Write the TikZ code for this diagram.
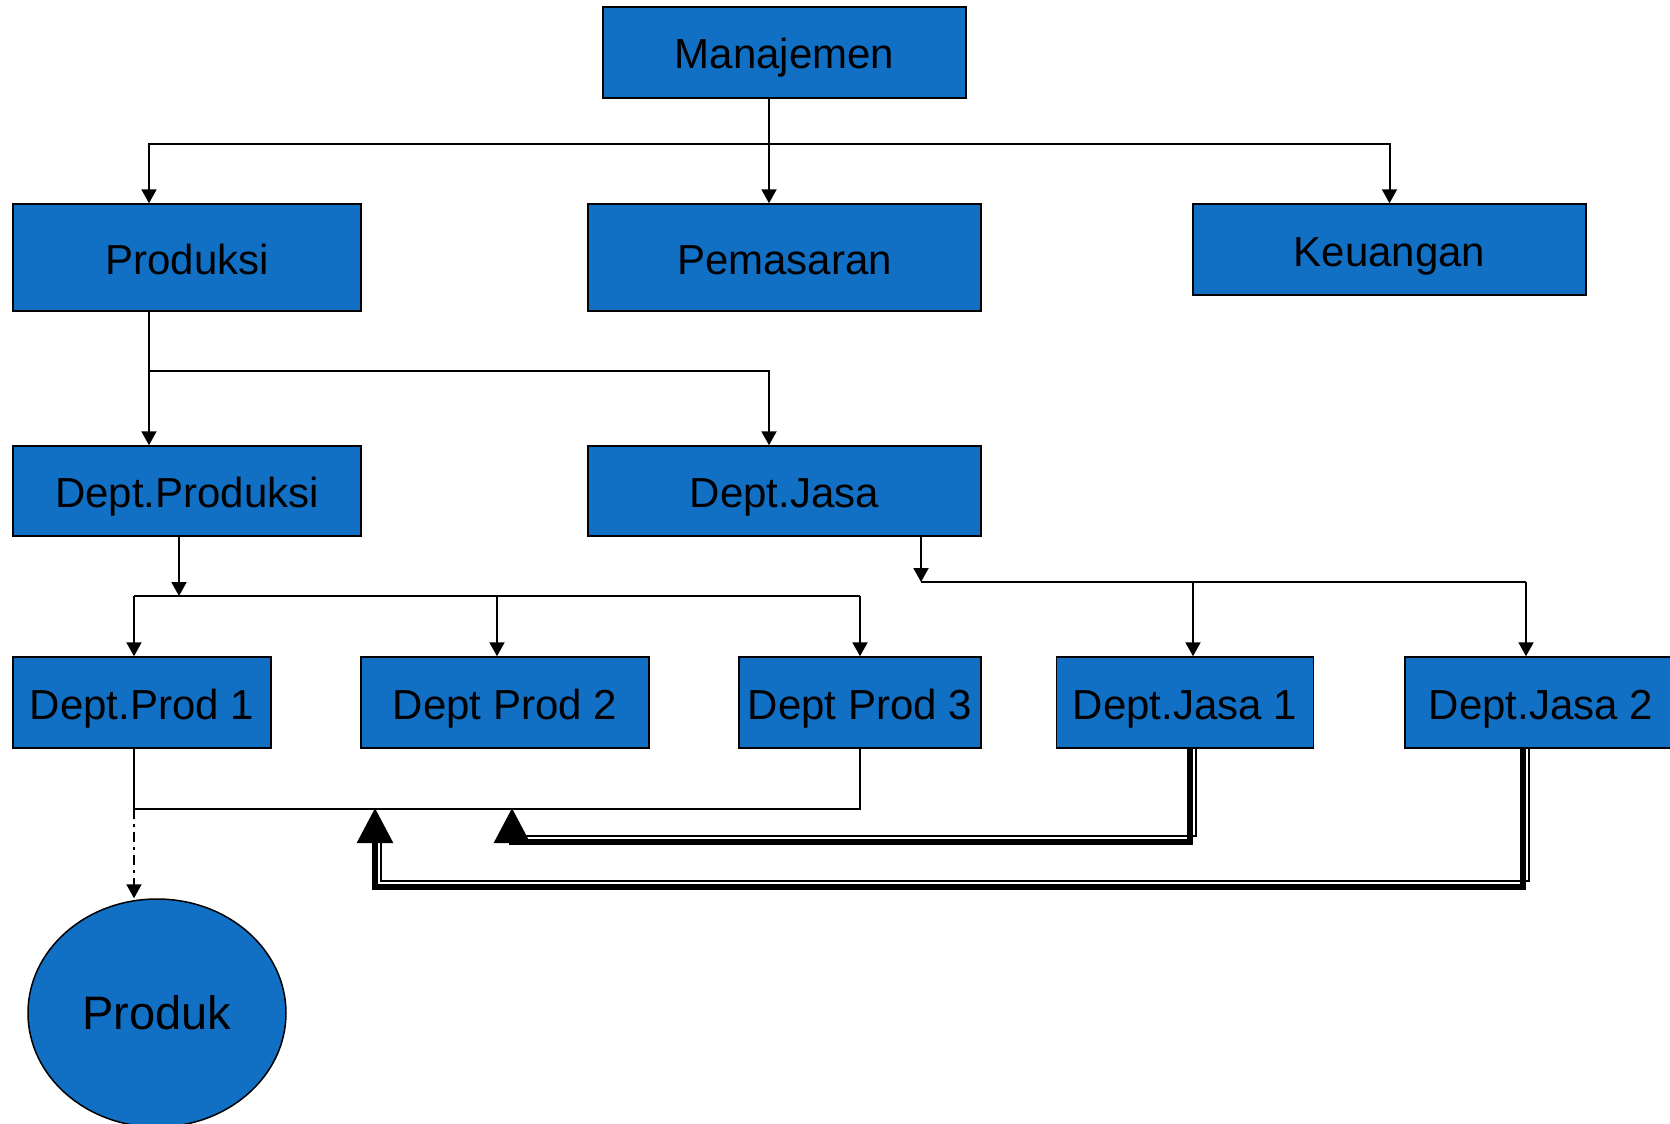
\documentclass[tikz,border=0pt]{standalone}
\usepackage{fontspec}
\setmainfont{Liberation Sans}
\usetikzlibrary{arrows.meta,shapes.geometric}
\definecolor{boxblue}{RGB}{17,111,196}
\tikzset{
    unit/.style={draw=black, line width=1.5pt, fill=boxblue, inner sep=0pt,
        minimum height=91pt, text height=33pt, text depth=0pt,
        font=\fontsize{42}{50}\selectfont},
    link/.style={line width=2pt, -{Triangle[length=14pt,width=15pt]}},
    wire/.style={line width=2pt},
    flow/.style={line width=6pt, -{Triangle[length=35pt,width=35pt]}},
    shade/.style={line width=2pt}
}
\begin{document}
\begin{tikzpicture}[x=1pt, y=-1pt]
    \fill[white] (0, 0) rectangle (1670, 1124);
    \useasboundingbox (0, 0) rectangle (1670, 1124);

        \node[unit, minimum width=363pt] (man) at (784.5, 52.5) {Manajemen};

        \node[unit, minimum width=348pt, minimum height=107pt] (prod) at (187, 257.5) {Produksi};
        \node[unit, minimum width=393pt, minimum height=107pt] (pem) at (784.5, 257.5) {Pemasaran};
        \node[unit, minimum width=393pt] (keu) at (1389.5, 249.5) {Keuangan};

        \node[unit, minimum width=348pt, minimum height=90pt] (dprod) at (187, 491) {Dept.Produksi};
        \node[unit, minimum width=393pt, minimum height=90pt] (djasa) at (784.5, 491) {Dept.Jasa};

        \node[unit, minimum width=258pt] (dp1) at (142, 702.5) {Dept.Prod 1};
        \node[unit, minimum width=288pt] (dp2) at (505, 702.5) {Dept Prod 2};
        \node[unit, minimum width=242pt] (dp3) at (860, 702.5) {Dept Prod 3};
        \node[unit, minimum width=257pt] (dj1) at (1185, 702.5) {Dept.Jasa 1};
        \node[unit, minimum width=272pt] (dj2) at (1541, 702.5) {Dept.Jasa 2};

        \node[ellipse, draw=black, line width=1.5pt, fill=boxblue, inner sep=0pt,
            minimum width=258pt, minimum height=228pt,
            font=\fontsize{47}{56}\selectfont] (produk) at (157, 1013) {Produk};

    % junctions
    \coordinate (top) at (769, 144);
    \coordinate (topl) at (149, 144);
    \coordinate (mid) at (149, 371);
    \coordinate (pj) at (179, 596);
    \coordinate (pl) at (134, 596);
    \coordinate (pm) at (497, 596);
    \coordinate (pr) at (860, 596);
    \coordinate (jj) at (921, 582);
    \coordinate (jm) at (1193, 582);
    \coordinate (jr) at (1526, 582);
    \coordinate (col) at (134, 809);

        \draw[wire] (man.south -| top) -- (top);
        \draw[link] (top) -- (pem.north -| top);
        \draw[link] (top) -- (topl) -- (prod.north -| topl);
        \draw[link] (top) -| (keu.north);

        \draw[link] (prod.south -| mid) -- (dprod.north -| mid);
        \draw[link] (mid) -| (djasa.north -| top);

        \draw[link] (dprod.south -| pj) -- (pj);
        \draw[wire] (pl) -- (pr);
        \draw[link] (pl) -- (dp1.north -| pl);
        \draw[link] (pm) -- (dp2.north -| pm);
        \draw[link] (pr) -- (dp3.north);

        \draw[link] (djasa.south -| jj) -- (jj);
        \draw[wire] (jj) -- (jr);
        \draw[link] (jm) -- (dj1.north -| jm);
        \draw[link] (jr) -- (dj2.north -| jr);

        \draw[wire] (dp1.south -| col) -- (col) -| (dp3.south);
        \draw[link, dash pattern=on 10pt off 5pt on 3pt off 5pt] (col) -- (produk.north -| col);

    % back flows from the service departments
    \coordinate (tipa) at (512, 808);
    \coordinate (tipb) at (375, 808);
    \coordinate (ja) at (1190, 842);
    \coordinate (jb) at (1523, 887);
    \coordinate (sa) at (1196, 836);
    \coordinate (sb) at (1529, 881);
    \coordinate (sc) at (381, 881);
    \coordinate (sd) at (381, 843);

        \draw[shade] (dj1.south -| sa) -- (sa) -- (sa -| tipa);
        \draw[shade] (dj2.south -| sb) -- (sb) -- (sc) -- (sd);
        \draw[flow] (dj1.south -| ja) -- (ja) -- (ja -| tipa) -- (tipa);
        \draw[flow] (dj2.south -| jb) -- (jb) -- (jb -| tipb) -- (tipb);
\end{tikzpicture}
\end{document}
